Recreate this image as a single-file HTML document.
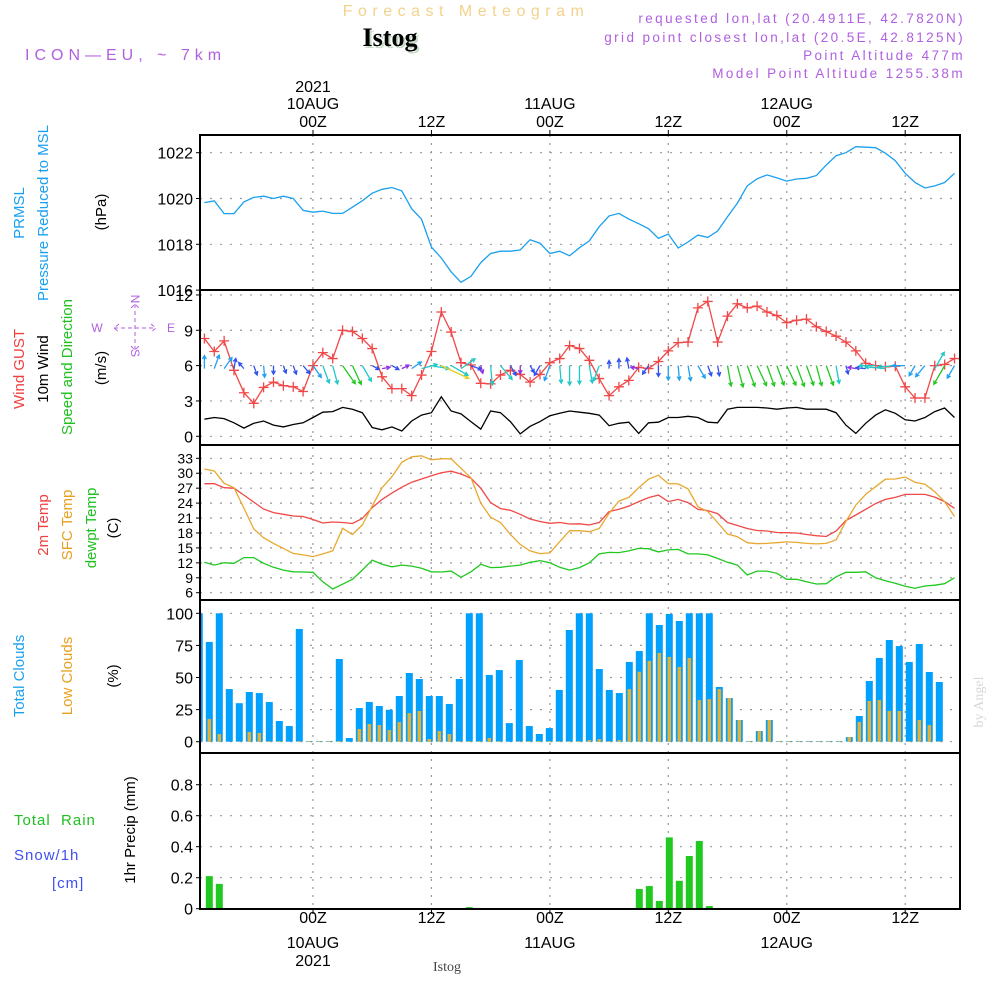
<!DOCTYPE html>
<html><head><meta charset="utf-8">
<style>
html,body{margin:0;padding:0;background:#fff;}
svg{display:block;font-family:"Liberation Sans",sans-serif;}
</style></head>
<body>
<svg id="chart" width="1000" height="1000" viewBox="0 0 1000 1000" xmlns="http://www.w3.org/2000/svg">
<defs>
<clipPath id="c1"><rect x="200" y="135" width="760" height="155"/></clipPath>
<clipPath id="c2"><rect x="200" y="290" width="760" height="155"/></clipPath>
<clipPath id="c3"><rect x="200" y="445" width="760" height="155"/></clipPath>
<clipPath id="c4"><rect x="200" y="600" width="760" height="153"/></clipPath>
<clipPath id="c5"><rect x="200" y="753" width="760" height="156"/></clipPath>
</defs>
<!-- header -->
<text x="466" y="16" text-anchor="middle" font-size="16" letter-spacing="5.5" fill="#f3d28c">Forecast Meteogram</text>
<text x="392" y="48" text-anchor="middle" font-family="Liberation Serif,serif" font-weight="bold" font-size="26" fill="#c8dcc8">Istog</text>
<text x="390" y="46" text-anchor="middle" font-family="Liberation Serif,serif" font-weight="bold" font-size="26" fill="#000">Istog</text>
<text x="25" y="60" font-size="16" letter-spacing="5" fill="#b060e0">ICON—EU, ~ 7km</text>
<g font-size="13.5" letter-spacing="2.4" fill="#b060e0" text-anchor="end">
<text x="965" y="23">requested lon,lat (20.4911E, 42.7820N)</text>
<text x="965" y="42">grid point closest lon,lat (20.5E, 42.8125N)</text>
<text x="965" y="60">Point Altitude 477m</text>
<text x="965" y="78">Model Point Altitude 1255.38m</text>
</g>
<g id="timeLabels" font-size="16" fill="#000" text-anchor="middle"></g>
<g id="grid"></g>
<g id="marks"></g>
<g id="frame"></g>
<g id="yticks" font-size="16" fill="#000" text-anchor="end"></g>
<!-- left labels -->
<g font-size="15">
<text transform="translate(24,213) rotate(-90)" text-anchor="middle" fill="#1aa0f0">PRMSL</text>
<text transform="translate(48,213) rotate(-90)" text-anchor="middle" fill="#1aa0f0">Pressure Reduced to MSL</text>
<text transform="translate(106,212) rotate(-90)" text-anchor="middle" fill="#000">(hPa)</text>
<text transform="translate(24,369) rotate(-90)" text-anchor="middle" fill="#f04040">Wind GUST</text>
<text transform="translate(48,369) rotate(-90)" text-anchor="middle" fill="#000">10m Wind</text>
<text transform="translate(72,367) rotate(-90)" text-anchor="middle" fill="#20c020">Speed and Direction</text>
<text transform="translate(106,368) rotate(-90)" text-anchor="middle" fill="#000">(m/s)</text>
<text transform="translate(48,525) rotate(-90)" text-anchor="middle" fill="#f04040">2m Temp</text>
<text transform="translate(72,525) rotate(-90)" text-anchor="middle" fill="#e8a020">SFC Temp</text>
<text transform="translate(96,528) rotate(-90)" text-anchor="middle" fill="#20c020">dewpt Temp</text>
<text transform="translate(118,528) rotate(-90)" text-anchor="middle" fill="#000">(C)</text>
<text transform="translate(24,676) rotate(-90)" text-anchor="middle" fill="#1aa0f0">Total Clouds</text>
<text transform="translate(72,676) rotate(-90)" text-anchor="middle" fill="#e8a020">Low Clouds</text>
<text transform="translate(118,676) rotate(-90)" text-anchor="middle" fill="#000">(%)</text>
<text x="14" y="825" fill="#20c020" xml:space="preserve" letter-spacing="1">Total  Rain</text>
<text x="14" y="860" fill="#4050f0" letter-spacing="1">Snow/1h</text>
<text x="52" y="888" fill="#4050f0" letter-spacing="1">[cm]</text>
<text transform="translate(135,830) rotate(-90)" text-anchor="middle" fill="#000">1hr Precip (mm)</text>
</g>
<g fill="#b060e0" stroke="#b060e0" font-size="12">
<text transform="translate(131,299) rotate(90)" text-anchor="middle" stroke="none">N</text>
<text transform="translate(131,353) rotate(90)" text-anchor="middle" stroke="none">S</text>
<text x="97" y="332" text-anchor="middle" stroke="none">W</text>
<text x="171" y="332" text-anchor="middle" stroke="none">E</text>
<path d="M114 328 H156 M135 304 V350 M119 324 L114 328 L119 332 M151 324 L156 328 L151 332 M131 308 L135 304 L139 308 M131 346 L135 350 L139 346" fill="none" stroke-width="1" stroke-dasharray="4 3"/>
</g>
<text transform="translate(983,702) rotate(-90)" text-anchor="middle" font-family="Liberation Serif,serif" font-size="14" fill="#d8d8d8">by Angel</text>
<text x="447" y="971" text-anchor="middle" font-family="Liberation Serif,serif" font-size="14" fill="#444">Istog</text>
</svg>
<script>
// ---- data (hourly, from 09AUG 13Z) ----
const pressure=[1019.82,1019.9,1019.34,1019.34,1019.85,1020.05,1020.1,1020.0,1020.1,1020.0,1019.48,1019.4,1019.45,1019.35,1019.35,1019.62,1019.9,1020.23,1020.4,1020.48,1020.33,1019.55,1019.1,1017.88,1017.4,1016.8,1016.34,1016.6,1017.2,1017.6,1017.7,1017.7,1017.75,1018.2,1018.05,1017.6,1017.7,1017.5,1017.85,1018.15,1018.77,1019.24,1019.35,1019.1,1018.9,1018.68,1018.26,1018.45,1017.84,1018.1,1018.4,1018.3,1018.58,1019.2,1019.8,1020.55,1020.86,1021.03,1020.9,1020.76,1020.85,1020.88,1021.0,1021.46,1021.87,1022.0,1022.26,1022.24,1022.22,1021.98,1021.65,1021.1,1020.7,1020.46,1020.55,1020.7,1021.1];
const gust=[8.3,7.2,8.1,5.6,3.7,2.8,4.15,4.6,4.3,4.2,3.8,6.0,7.1,6.6,9.0,8.9,8.3,7.45,5.05,4.05,4.05,3.45,5.2,7.2,10.55,8.85,6.25,6.05,4.5,4.45,5.2,5.6,5.25,4.6,5.25,6.25,6.6,7.7,7.45,6.45,4.9,3.45,4.2,4.75,5.85,5.75,6.35,7.25,7.95,8.0,10.9,11.45,8.0,10.2,11.25,10.9,11.05,10.55,10.25,9.65,9.85,9.95,9.3,8.9,8.5,8.0,7.25,6.2,6.0,5.9,5.95,4.2,3.25,3.25,6.0,6.1,6.6];
const wind10=[1.45,1.6,1.5,1.15,0.7,1.1,1.3,0.95,0.8,1.0,1.15,1.6,2.05,2.1,2.45,2.3,2.0,0.75,0.55,0.8,0.45,1.3,1.8,2.0,3.35,2.15,1.9,1.25,0.6,2.15,2.0,1.25,0.2,0.85,1.25,1.75,1.95,2.15,2.05,1.95,1.8,0.9,1.1,1.2,0.25,1.15,1.2,1.6,1.6,1.7,1.6,1.2,1.15,2.3,2.45,2.45,2.45,2.4,2.3,2.4,2.45,2.3,2.3,2.3,2.0,0.95,0.25,1.1,1.8,2.25,1.95,1.4,1.3,1.6,2.1,2.4,1.6];
const windDir=[180,200,215,190,140,340,355,0,340,340,320,325,340,345,325,335,330,300,260,300,245,235,255,280,295,300,235,290,345,355,320,330,0,330,30,20,355,0,0,350,20,180,180,170,100,35,0,0,355,350,330,340,350,350,345,340,335,340,340,335,340,340,345,340,350,345,100,95,90,95,85,90,30,40,210,30,30];
const temp2m=[27.9,27.9,27.1,27.0,25.6,24.2,22.8,22.1,21.75,21.4,21.3,20.7,20.0,20.2,20.1,19.9,20.9,23.1,24.75,26.0,27.2,28.2,28.85,29.5,30.1,30.4,29.85,29.0,27.0,24.1,22.9,22.55,21.75,20.8,20.3,19.95,20.1,19.8,19.85,19.6,20.1,22.3,22.75,23.4,24.3,25.1,25.6,24.3,24.75,24.1,22.75,22.5,21.9,20.1,19.5,18.9,18.5,18.4,18.1,18.05,18.0,17.7,17.45,17.3,18.4,20.5,21.6,22.75,23.9,24.75,25.15,25.75,25.75,25.75,25.2,24.3,22.95];
const tempSfc=[30.85,30.45,28.0,27.1,23.0,18.8,17.05,15.9,14.9,13.9,13.6,13.25,13.8,14.4,18.95,17.7,19.6,23.4,27.1,29.3,32.2,33.3,33.5,32.7,32.9,32.9,31.0,29.1,24.0,21.15,20.1,17.7,15.7,14.4,13.85,14.0,16.25,18.45,18.45,18.25,18.9,21.95,24.4,25.15,27.1,28.8,29.6,27.9,27.85,26.85,23.3,22.3,20.1,17.8,17.25,16.05,15.85,15.9,16.05,16.2,16.1,15.9,15.8,15.9,16.6,20.3,23.6,25.75,27.3,28.8,28.85,29.25,28.2,27.8,26.3,24.3,21.3];
const dewpt=[12.1,11.55,12.0,11.9,13.05,13.05,11.9,11.1,10.55,10.2,10.15,10.1,8.2,6.75,7.7,8.7,10.55,12.55,11.7,11.2,11.55,11.35,10.9,10.2,10.15,10.35,9.1,10.2,11.7,11.05,11.1,11.35,11.55,12.1,12.45,12.0,11.1,10.55,11.05,12.0,13.8,14.1,14.05,14.4,14.9,14.85,14.2,14.6,14.7,13.8,13.8,13.6,12.9,12.1,11.55,9.55,10.35,10.35,9.9,8.7,8.7,8.2,7.75,7.8,9.2,10.1,10.1,10.2,9.0,8.4,7.9,7.3,6.9,7.35,7.5,7.8,9.0];
const totalClouds=[100,77.7,100,41,30,38.7,37.9,30.9,16.1,12.2,87.8,0.5,0.5,0.5,64.4,2.9,26.2,30.9,27.8,24.9,35.6,53.5,48.8,35.6,35.6,29.4,48.8,100,100,52,55.8,14.5,63.6,12.2,6,10.6,40.3,87,100,100,56.6,40.3,37.9,62.1,70.6,100,90.9,99.5,94,100,100,100,42.6,34,16.9,0.5,8.3,16.9,0.5,0.5,0.5,0.5,0.5,0.5,0.5,3.6,20,47.3,65.2,79.2,74.5,62.1,76.1,54.3,46.5];
const lowClouds=[0,17.7,6,0,0.3,7.5,6.8,0.5,0.5,0,0.5,0.5,0.5,0.5,0.5,0,9.9,13.8,13,9.1,15.3,22.3,23.9,2.1,8.3,6,0.5,0.5,0.5,2.9,0.5,0,0.5,0.5,0.5,0.5,0.5,0.5,0.5,1.3,2,0.5,1.3,41,54.5,62.9,69.1,66,58.2,65.2,32.5,33.2,41,34,16.9,0.5,8.3,16.9,0.5,0.5,0.5,0.5,0.5,0.5,0.5,3.6,15.3,31.7,32.5,23.9,23.9,0.5,16.9,13,0.5];
const precip=[0,0.21,0.16,0,0,0,0,0,0,0,0,0,0,0,0,0,0,0,0,0,0,0,0,0,0,0,0,0.01,0,0,0,0,0,0,0,0,0,0,0,0,0,0,0,0,0.127,0.146,0.05,0.46,0.18,0.34,0.437,0.017,0,0,0,0,0,0,0,0,0,0,0,0,0,0,0,0,0,0,0,0,0,0,0];
const timeTicks=[0,12,24,36,48,60];
const timeHour=["00Z","12Z","00Z","12Z","00Z","12Z"];
const timeDay=["10AUG","","11AUG","","12AUG",""];
const pTicks=[1016,1018,1020,1022];
const wTicks=[0,3,6,9,12];
const tTicks=[6,9,12,15,18,21,24,27,30,33];
const cTicks=[0,25,50,75,100];
const rTicks=[0,0.2,0.4,0.6,0.8];

// ---- axes ----
const NS="http://www.w3.org/2000/svg";
const xi=i=>204.4+9.87*i;          // data index (hour -11 + i)
const xh=h=>313+9.87*h;            // hours since 10AUG 00Z
const xb=j=>199.3+10*j;            // hourly bar index
const yP=v=>152.7+(1022-v)*22.9;
const yW=v=>436.3-11.78*v;
const yT=v=>458.3+(33-v)*4.978;
const yC=v=>741.7-1.284*v;
const yR=v=>908.7-155*v;
function el(tag,attrs,parent){const e=document.createElementNS(NS,tag);for(const k in attrs)e.setAttribute(k,attrs[k]);parent.appendChild(e);return e;}
const grid=document.getElementById('grid'),marks=document.getElementById('marks'),frame=document.getElementById('frame'),yt=document.getElementById('yticks'),tl=document.getElementById('timeLabels');
const panels=[[135,290],[290,445],[445,600],[600,753],[753,909]];
timeTicks.forEach(h=>{const l=el('line',{x1:xh(h),x2:xh(h),y1:135,y2:908,stroke:'#999','stroke-width':1.2,'stroke-dasharray':'2 6'},grid);

});
function hgrid(ticks,f,name,fmt,fs){ticks.forEach(v=>{const y=f(v);
 const l=el('line',{x1:200,x2:960,y1:y,y2:y,stroke:'#999','stroke-width':1.2,'stroke-dasharray':'2 8'},grid);
 
 
 const tk=el('line',{x1:196,x2:200,y1:y,y2:y,stroke:'#000'},grid);
 
 
 const t=el('text',{x:193,y:y+(fs?5:6),'font-size':fs||16},yt);t.textContent=fmt?fmt(v):v;
 
 });}
hgrid(pTicks,yP,'pressure');hgrid(wTicks,yW,'wind');hgrid(tTicks,yT,'temp',null,14);hgrid(cTicks,yC,'cloud');hgrid(rTicks,yR,'precip',v=>v===0?'0':v.toFixed(1));
timeTicks.forEach((h,k)=>{const x=xh(h);
 let t=el('text',{x:x,y:127},tl);t.textContent=timeHour[k];
 t=el('text',{x:x,y:923},tl);t.textContent=timeHour[k];
 if(timeDay[k]){t=el('text',{x:x,y:109},tl);t.textContent=timeDay[k];
  t=el('text',{x:x,y:948},tl);t.textContent=timeDay[k];}
 if(k===0){t=el('text',{x:x,y:92},tl);t.textContent='2021';
  t=el('text',{x:x,y:966},tl);t.textContent='2021';}
 const a=el('line',{x1:x,x2:x,y1:130,y2:135,stroke:'#000'},grid);
 const b=el('line',{x1:x,x2:x,y1:908,y2:914,stroke:'#000'},grid);
});
function bars(arr,f,color,w,clip,name){const g=el('g',{'clip-path':'url(#'+clip+')'},marks);
 arr.forEach((v,j)=>{if(v<=0)return;const y=f(v);const r=el('rect',{x:xb(j)-w/2,y:y,width:w,height:f(0)-y,fill:color},g);
 });}
bars(totalClouds,yC,'#00a0ff',7,'c4','total-cloud-bar');
bars(lowClouds,yC,'#e8b030',3.5,'c4','low-cloud-bar');
bars(precip,yR,'#20c820',7,'c5','precip-bar');
function line(arr,f,color,clip,name){const d=arr.map((v,i)=>(i?'L':'M')+xi(i).toFixed(1)+' '+f(v).toFixed(1)).join(' ');
 const p=el('path',{d:d,fill:'none',stroke:color,'stroke-width':1.3,'clip-path':'url(#'+clip+')'},marks);
 return p;}
line(pressure,yP,'#1aa0f0','c1','pressure-line');
line(wind10,yW,'#000','c2','wind-speed-line');
line(gust,yW,'#f04848','c2','wind-gust-line');
const gm=el('g',{stroke:'#f04848','stroke-width':1.3,'clip-path':'url(#c2)'},marks);


gust.forEach((v,i)=>{const x=xi(i),y=yW(v);const p=el('path',{d:`M${x-5} ${y}H${x+5}M${x} ${y-5}V${y+5}`},gm);
 });
function wcol(s){return s<0.7?'#9030e0':s<1.3?'#3050f0':s<1.8?'#20a0f0':s<2.3?'#20c8c8':s<2.9?'#20c820':'#e0d020';}
const wa=el('g',{'stroke-width':1.3,fill:'none','clip-path':'url(#c2)'},marks);


windDir.forEach((dir,i)=>{const s=wind10[i];const L=Math.max(8,9*s);const th=dir*Math.PI/180;
 const dx=-Math.sin(th),dy=Math.cos(th);const x0=xi(i),y0=yW(6)+(dy<0?3:0);const x1=x0+dx*L,y1=y0+dy*L;
 const hl=4,a1=Math.atan2(dy,dx);
 const hx1=x1-hl*Math.cos(a1-0.5),hy1=y1-hl*Math.sin(a1-0.5),hx2=x1-hl*Math.cos(a1+0.5),hy2=y1-hl*Math.sin(a1+0.5);
 const p=el('path',{d:`M${x0} ${y0}L${x1} ${y1}M${hx1} ${hy1}L${x1} ${y1}L${hx2} ${hy2}`,stroke:wcol(s)},wa);
 });
line(temp2m,yT,'#f04848','c3','temp-2m-line');
line(tempSfc,yT,'#e8a830','c3','temp-sfc-line');
line(dewpt,yT,'#20c820','c3','dewpoint-line');
panels.forEach(([a,b],k)=>{const r=el('rect',{x:200,y:a,width:760,height:b-a,fill:'none',stroke:'#000','stroke-width':2},frame);
 });
</script>
</body></html>
